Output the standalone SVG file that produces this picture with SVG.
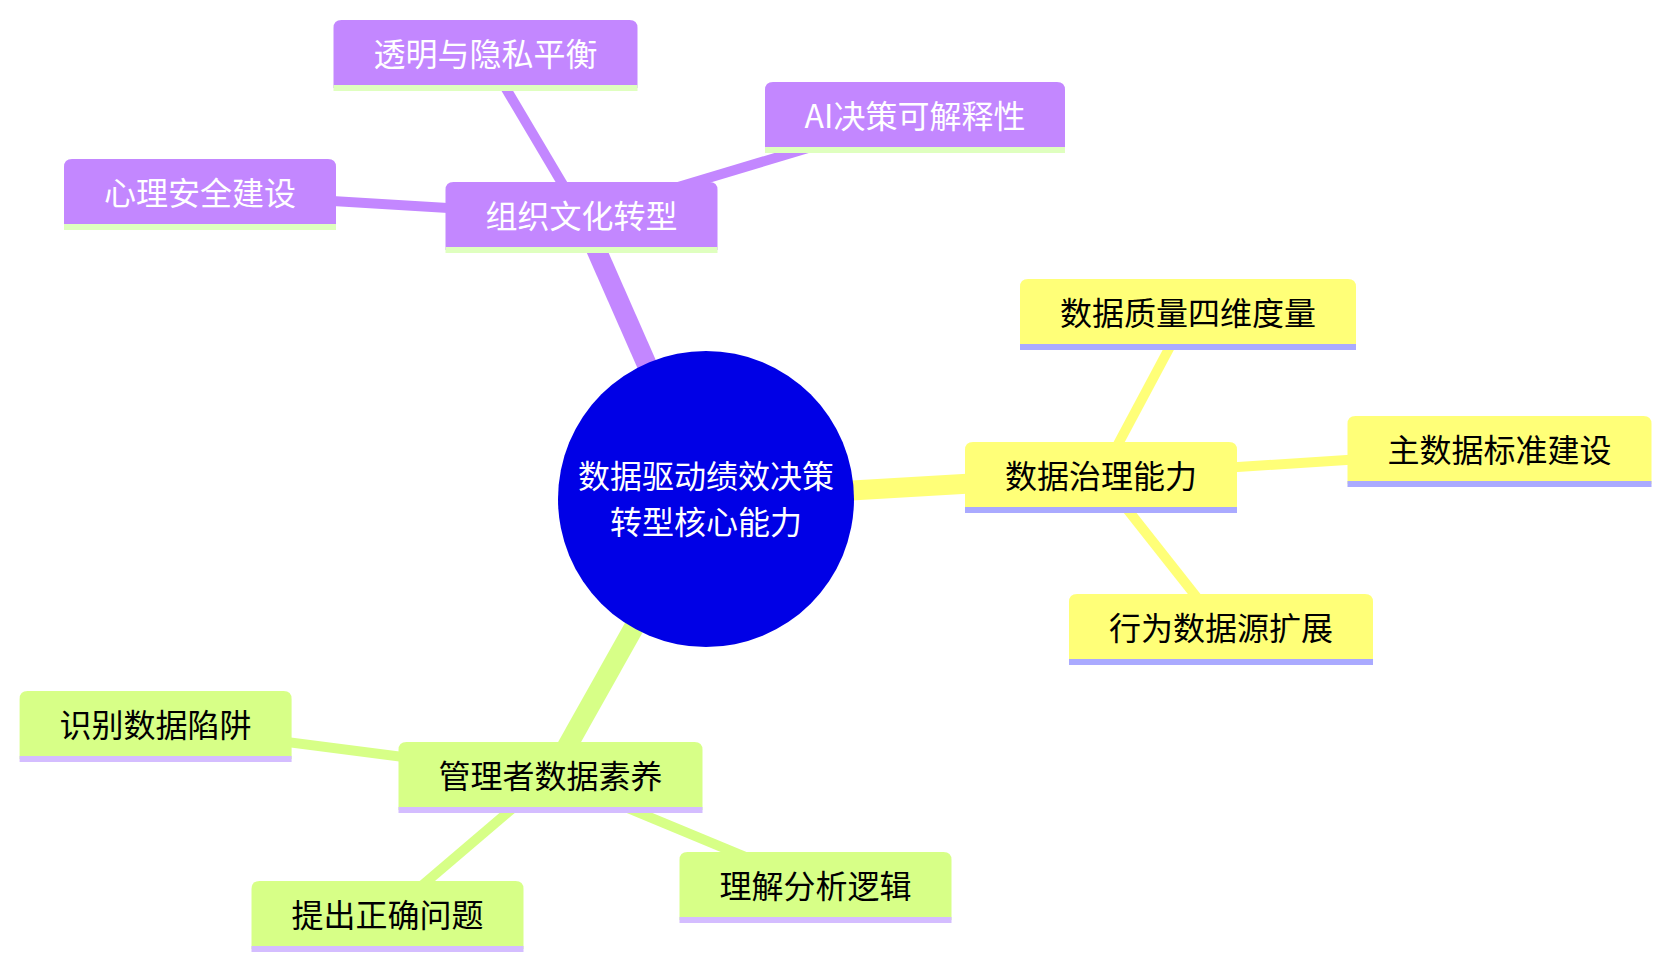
<svg xmlns="http://www.w3.org/2000/svg" width="1671" height="968" viewBox="0 0 1671 968">
<style>
text{font-family:"Noto Sans CJK SC","Noto Sans",sans-serif;font-size:32px;text-anchor:middle}
.s0 path.box{fill:#c387ff}.s0 line{stroke:#dfffbf}.s0 text{fill:#ffffff}
.s1 path.box{fill:#ffff78}.s1 line{stroke:#aaaaff}.s1 text{fill:#000000}
.s2 path.box{fill:#d7ff87}.s2 line{stroke:#d4bdff}.s2 text{fill:#000000}
.node line{stroke-width:6}
.edges line{stroke-linecap:butt}
.e0{stroke:#c387ff}.e1{stroke:#ffff78}.e2{stroke:#d7ff87}
.d0{stroke-width:20}.d1{stroke-width:10}
</style>
<g class="edges">
<line class="e0 d0" x1="706" y1="499" x2="581.5" y2="216"/>
<line class="e1 d0" x1="706" y1="499" x2="1101" y2="476"/>
<line class="e2 d0" x1="706" y1="499" x2="550.5" y2="776"/>
<line class="e0 d1" x1="581.5" y1="216" x2="485.5" y2="54"/>
<line class="e0 d1" x1="581.5" y1="216" x2="915" y2="116"/>
<line class="e0 d1" x1="581.5" y1="216" x2="200" y2="193"/>
<line class="e1 d1" x1="1101" y1="476" x2="1188" y2="313"/>
<line class="e1 d1" x1="1101" y1="476" x2="1499.5" y2="450"/>
<line class="e1 d1" x1="1101" y1="476" x2="1221" y2="628"/>
<line class="e2 d1" x1="550.5" y1="776" x2="155.6" y2="725"/>
<line class="e2 d1" x1="550.5" y1="776" x2="387.5" y2="915"/>
<line class="e2 d1" x1="550.5" y1="776" x2="815.5" y2="886"/>
</g>
<g id="root">
<circle cx="706" cy="499" r="148" fill="#0000e6"/>
<text x="706" y="488" fill="#ffffff">数据驱动绩效决策</text>
<text x="706" y="534" fill="#ffffff">转型核心能力</text>
</g>
<g id="n-culture" class="node s0" transform="translate(581.5,216)">
<path class="box" d="M-136 34V-26Q-136 -34 -128 -34H128Q136 -34 136 -26V34Z"/>
<line x1="-136" y1="34" x2="136" y2="34"/>
<text y="12">组织文化转型</text>
</g>
<g id="n-privacy" class="node s0" transform="translate(485.5,54)">
<path class="box" d="M-152 34V-26Q-152 -34 -144 -34H144Q152 -34 152 -26V34Z"/>
<line x1="-152" y1="34" x2="152" y2="34"/>
<text y="12">透明与隐私平衡</text>
</g>
<g id="n-ai" class="node s0" transform="translate(915,116)">
<path class="box" d="M-150 34V-26Q-150 -34 -142 -34H142Q150 -34 150 -26V34Z"/>
<line x1="-150" y1="34" x2="150" y2="34"/>
<text y="12">AI决策可解释性</text>
</g>
<g id="n-psych" class="node s0" transform="translate(200,193)">
<path class="box" d="M-136 34V-26Q-136 -34 -128 -34H128Q136 -34 136 -26V34Z"/>
<line x1="-136" y1="34" x2="136" y2="34"/>
<text y="12">心理安全建设</text>
</g>
<g id="n-gov" class="node s1" transform="translate(1101,476)">
<path class="box" d="M-136 34V-26Q-136 -34 -128 -34H128Q136 -34 136 -26V34Z"/>
<line x1="-136" y1="34" x2="136" y2="34"/>
<text y="12">数据治理能力</text>
</g>
<g id="n-quality" class="node s1" transform="translate(1188,313)">
<path class="box" d="M-168 34V-26Q-168 -34 -160 -34H160Q168 -34 168 -26V34Z"/>
<line x1="-168" y1="34" x2="168" y2="34"/>
<text y="12">数据质量四维度量</text>
</g>
<g id="n-master" class="node s1" transform="translate(1499.5,450)">
<path class="box" d="M-152 34V-26Q-152 -34 -144 -34H144Q152 -34 152 -26V34Z"/>
<line x1="-152" y1="34" x2="152" y2="34"/>
<text y="12">主数据标准建设</text>
</g>
<g id="n-behavior" class="node s1" transform="translate(1221,628)">
<path class="box" d="M-152 34V-26Q-152 -34 -144 -34H144Q152 -34 152 -26V34Z"/>
<line x1="-152" y1="34" x2="152" y2="34"/>
<text y="12">行为数据源扩展</text>
</g>
<g id="n-literacy" class="node s2" transform="translate(550.5,776)">
<path class="box" d="M-152 34V-26Q-152 -34 -144 -34H144Q152 -34 152 -26V34Z"/>
<line x1="-152" y1="34" x2="152" y2="34"/>
<text y="12">管理者数据素养</text>
</g>
<g id="n-traps" class="node s2" transform="translate(155.6,725)">
<path class="box" d="M-136 34V-26Q-136 -34 -128 -34H128Q136 -34 136 -26V34Z"/>
<line x1="-136" y1="34" x2="136" y2="34"/>
<text y="12">识别数据陷阱</text>
</g>
<g id="n-questions" class="node s2" transform="translate(387.5,915)">
<path class="box" d="M-136 34V-26Q-136 -34 -128 -34H128Q136 -34 136 -26V34Z"/>
<line x1="-136" y1="34" x2="136" y2="34"/>
<text y="12">提出正确问题</text>
</g>
<g id="n-logic" class="node s2" transform="translate(815.5,886)">
<path class="box" d="M-136 34V-26Q-136 -34 -128 -34H128Q136 -34 136 -26V34Z"/>
<line x1="-136" y1="34" x2="136" y2="34"/>
<text y="12">理解分析逻辑</text>
</g>
</svg>
